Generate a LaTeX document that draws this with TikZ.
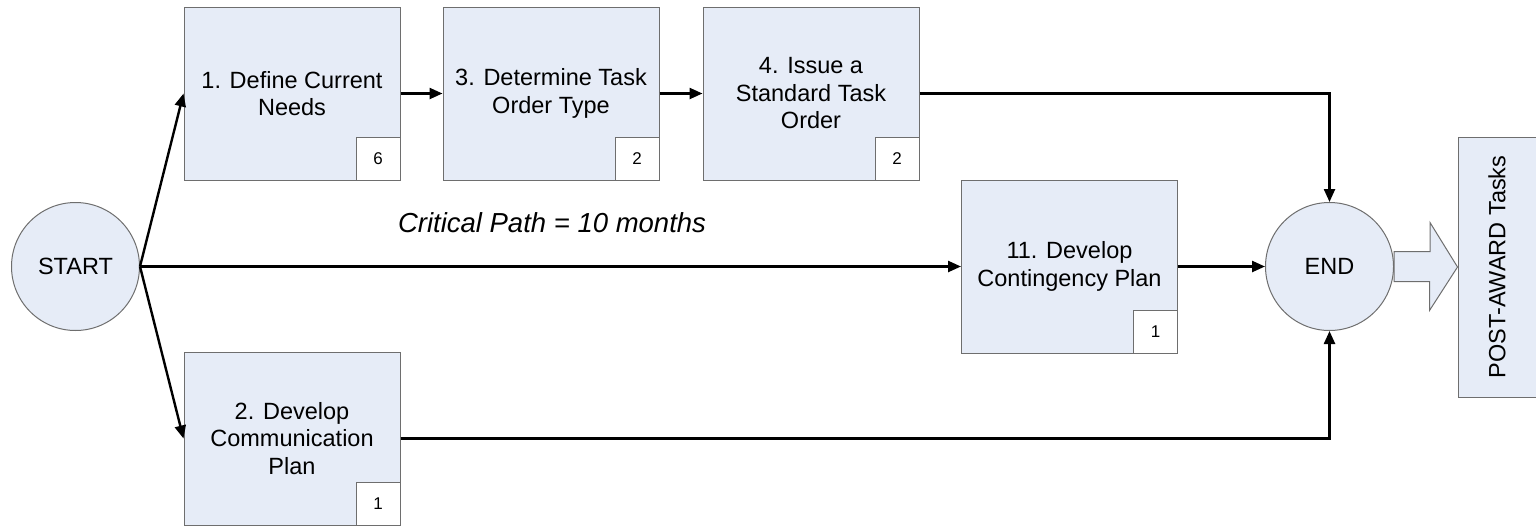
\documentclass[tikz,border=0pt]{standalone}
\usepackage{fontspec}
\setmainfont{Liberation Sans}
\usetikzlibrary{arrows.meta}
\definecolor{boxfill}{RGB}{230,236,247}
\definecolor{boxline}{RGB}{110,110,110}
\tikzset{
  txt/.style={font=\fontsize{23.5}{27.5}\selectfont},
  taskbox/.style={txt,draw=boxline,fill=boxfill,line width=1pt,minimum width=216pt,minimum height=173pt,inner sep=0pt,align=center},
  numbox/.style={draw=boxline,fill=white,line width=1pt,minimum width=44pt,minimum height=43pt,inner sep=0pt,font=\fontsize{17}{20}\selectfont},
  endpt/.style={txt,circle,draw=boxline,fill=boxfill,line width=1pt,minimum size=128pt,inner sep=0pt},
  conn/.style={line width=2.4pt,-{Triangle[length=13pt,width=11pt]}},
  blockarrow/.style={draw=boxline,fill=boxfill,line width=1pt,line join=miter},
}
\begin{document}
\begin{tikzpicture}[x=1pt,y=-1pt]
\useasboundingbox (0,0) rectangle (1536,525);
\node[endpt] (start) at (75.5,266.5) {START};
\node[endpt] (end) at (1329.5,266.5) {END};
\node[taskbox] (t1) at (292,93.5) {1. Define Current\\Needs};
\node[taskbox] (t3) at (551,93.5) {3. Determine Task\\Order Type};
\node[taskbox] (t4) at (811,93.5) {4. Issue a\\Standard Task\\Order};
\node[taskbox] (t11) at (1069.5,266.5) {11. Develop\\Contingency Plan};
\node[taskbox] (t2) at (292,438.5) {2. Develop\\Communication\\Plan};
\foreach \b/\n in {t1/6,t3/2,t4/2,t11/1,t2/1}
  \node[numbox,anchor=south east] (n\b) at (\b.south east) {\n};
\node[txt,draw=boxline,fill=boxfill,line width=1pt,minimum width=260pt,minimum height=78pt,inner sep=0pt,rotate=90] (post) at (1497,267) {POST-AWARD Tasks};
\coordinate (ba) at (end.east);
\draw[blockarrow] ([yshift=15pt]ba) -- ++(36,0) -- ++(0,-29) -- (post.north) -- ++(-28,43.5) -- ++(0,-29) -- ([yshift=-15pt]ba) -- cycle;
\node[font=\fontsize{27.5}{32}\selectfont\itshape,anchor=base] (cp) at (552,232) {Critical Path = 10 months};
\coordinate (s0) at (start.east);
\draw[conn] (s0) -- (t1.west);
\draw[conn] (s0) -- (t2.west);
\draw[conn] (s0) -- (t11.west);
\draw[conn] (t1) -- (t3);
\draw[conn] (t3) -- (t4);
\draw[conn] (t11) -- (end);
\draw[conn] (t4.east) -| (end.north);
\draw[conn] (t2.east) -| (end.south);
\end{tikzpicture}
\end{document}
